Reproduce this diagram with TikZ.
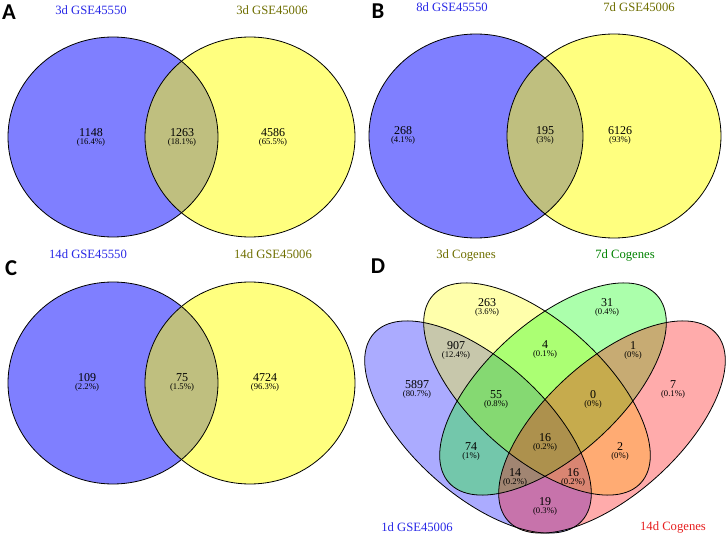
\documentclass[tikz,border=0pt]{standalone}
\usepackage{fontspec}
\setmainfont{Liberation Serif}
\newfontfamily\panelfont{Carlito}
\usetikzlibrary{positioning}
\definecolor{SetBlue}{RGB}{0,0,255}
\definecolor{SetYellow}{RGB}{255,255,0}
\definecolor{SetGreen}{RGB}{0,255,0}
\definecolor{SetRed}{RGB}{255,0,0}
\definecolor{TxtBlue}{RGB}{40,40,230}
\definecolor{TxtOlive}{RGB}{110,110,0}
\definecolor{TxtGreen}{RGB}{0,130,0}
\definecolor{TxtRed}{RGB}{230,30,30}

\begin{document}
\begin{tikzpicture}[x=0.75pt,y=-0.75pt,
  panel/.style={font=\panelfont\bfseries\fontsize{17}{17}\selectfont,inner sep=0},
  setlabel/.style={font=\fontsize{9.5}{10}\selectfont,inner sep=0},
  num/.style={font=\fontsize{9}{10}\selectfont,inner sep=0},
  pct/.style={font=\fontsize{6.5}{7}\selectfont,inner sep=0},
  halffill/.style={fill opacity=0.5},
  thirdfill/.style={fill opacity=0.33},
  outline/.style={draw=black,line width=0.6pt}]
  \useasboundingbox (0,0) rectangle (726,535);

  % panel A
  \fill[SetBlue,halffill] (113,137) ellipse [x radius=105,y radius=100];
  \fill[SetYellow,halffill] (250,137) ellipse [x radius=105,y radius=100];
  \draw[outline] (113,137) ellipse [x radius=105,y radius=100];
  \draw[outline] (250,137) ellipse [x radius=105,y radius=100];
  \node[panel] (pA) at (9,12) {A};
  \node[setlabel,text=TxtBlue] (labA1) at (91,10) {3d GSE45550};
  \node[setlabel,text=TxtOlive] (labA2) at (272,10) {3d GSE45006};
  \node[num] (nA1) at (91,133) {1148};
  \node[pct,below=1pt of nA1] (qA1) {(16.4\%)};
  \node[num] (nA2) at (182,133) {1263};
  \node[pct,below=1pt of nA2] (qA2) {(18.1\%)};
  \node[num] (nA3) at (273,133) {4586};
  \node[pct,below=1pt of nA3] (qA3) {(65.5\%)};

  % panel B
  \fill[SetBlue,halffill] (476,136) ellipse [x radius=107,y radius=102];
  \fill[SetYellow,halffill] (614,136) ellipse [x radius=107,y radius=102];
  \draw[outline] (476,136) ellipse [x radius=107,y radius=102];
  \draw[outline] (614,136) ellipse [x radius=107,y radius=102];
  \node[panel] (pB) at (378,11) {B};
  \node[setlabel,text=TxtBlue] (labB1) at (452,7) {8d GSE45550};
  \node[setlabel,text=TxtOlive] (labB2) at (639,7) {7d GSE45006};
  \node[num] (nB1) at (403,131) {268};
  \node[pct,below=1pt of nB1] (qB1) {(4.1\%)};
  \node[num] (nB2) at (545,131) {195};
  \node[pct,below=1pt of nB2] (qB2) {(3\%)};
  \node[num] (nB3) at (620,131) {6126};
  \node[pct,below=1pt of nB3] (qB3) {(93\%)};

  % panel C
  \fill[SetBlue,halffill] (113,383) ellipse [x radius=105,y radius=101];
  \fill[SetYellow,halffill] (250,383) ellipse [x radius=105,y radius=101];
  \draw[outline] (113,383) ellipse [x radius=105,y radius=101];
  \draw[outline] (250,383) ellipse [x radius=105,y radius=101];
  \node[panel] (pC) at (11,268) {C};
  \node[setlabel,text=TxtBlue] (labC1) at (88,254) {14d GSE45550};
  \node[setlabel,text=TxtOlive] (labC2) at (273,254) {14d GSE45006};
  \node[num] (nC1) at (87,378) {109};
  \node[pct,below=1pt of nC1] (qC1) {(2.2\%)};
  \node[num] (nC2) at (182,378) {75};
  \node[pct,below=1pt of nC2] (qC2) {(1.5\%)};
  \node[num] (nC3) at (265,378) {4724};
  \node[pct,below=1pt of nC3] (qC3) {(96.3\%)};

  % panel D
  \fill[SetBlue,thirdfill,rotate around={-42:(478,427)}] (478,427) ellipse [x radius=140,y radius=67];
  \fill[SetYellow,thirdfill,rotate around={-42:(537,389)}] (537,389) ellipse [x radius=140,y radius=67];
  \fill[SetGreen,thirdfill,rotate around={42:(553,389)}] (553,389) ellipse [x radius=140,y radius=67];
  \fill[SetRed,thirdfill,rotate around={42:(612,427)}] (612,427) ellipse [x radius=140,y radius=67];
  \draw[outline,rotate around={-42:(478,427)}] (478,427) ellipse [x radius=140,y radius=67];
  \draw[outline,rotate around={-42:(537,389)}] (537,389) ellipse [x radius=140,y radius=67];
  \draw[outline,rotate around={42:(553,389)}] (553,389) ellipse [x radius=140,y radius=67];
  \draw[outline,rotate around={42:(612,427)}] (612,427) ellipse [x radius=140,y radius=67];
  \node[panel] (pD) at (378,266) {D};
  \node[setlabel,text=TxtOlive] (labD1) at (466,255) {3d Cogenes};
  \node[setlabel,text=TxtGreen] (labD2) at (625,255) {7d Cogenes};
  \node[setlabel,text=TxtBlue] (labD3) at (417,527) {1d GSE45006};
  \node[setlabel,text=TxtRed] (labD4) at (673,527) {14d Cogenes};
  \node[num] (nD1) at (487,303) {263};
  \node[pct,below=1pt of nD1] (qD1) {(3.6\%)};
  \node[num] (nD2) at (607,303) {31};
  \node[pct,below=1pt of nD2] (qD2) {(0.4\%)};
  \node[num] (nD3) at (456,346) {907};
  \node[pct,below=1pt of nD3] (qD3) {(12.4\%)};
  \node[num] (nD4) at (545,345) {4};
  \node[pct,below=1pt of nD4] (qD4) {(0.1\%)};
  \node[num] (nD5) at (633,346) {1};
  \node[pct,below=1pt of nD5] (qD5) {(0\%)};
  \node[num] (nD6) at (417,385) {5897};
  \node[pct,below=1pt of nD6] (qD6) {(80.7\%)};
  \node[num] (nD7) at (496,395) {55};
  \node[pct,below=1pt of nD7] (qD7) {(0.8\%)};
  \node[num] (nD8) at (593,395) {0};
  \node[pct,below=1pt of nD8] (qD8) {(0\%)};
  \node[num] (nD9) at (673,385) {7};
  \node[pct,below=1pt of nD9] (qD9) {(0.1\%)};
  \node[num] (nD10) at (545,438) {16};
  \node[pct,below=1pt of nD10] (qD10) {(0.2\%)};
  \node[num] (nD11) at (471,447) {74};
  \node[pct,below=1pt of nD11] (qD11) {(1\%)};
  \node[num] (nD12) at (620,447) {2};
  \node[pct,below=1pt of nD12] (qD12) {(0\%)};
  \node[num] (nD13) at (515,473) {14};
  \node[pct,below=1pt of nD13] (qD13) {(0.2\%)};
  \node[num] (nD14) at (573,473) {16};
  \node[pct,below=1pt of nD14] (qD14) {(0.2\%)};
  \node[num] (nD15) at (545,502) {19};
  \node[pct,below=1pt of nD15] (qD15) {(0.3\%)};
\end{tikzpicture}
\end{document}
